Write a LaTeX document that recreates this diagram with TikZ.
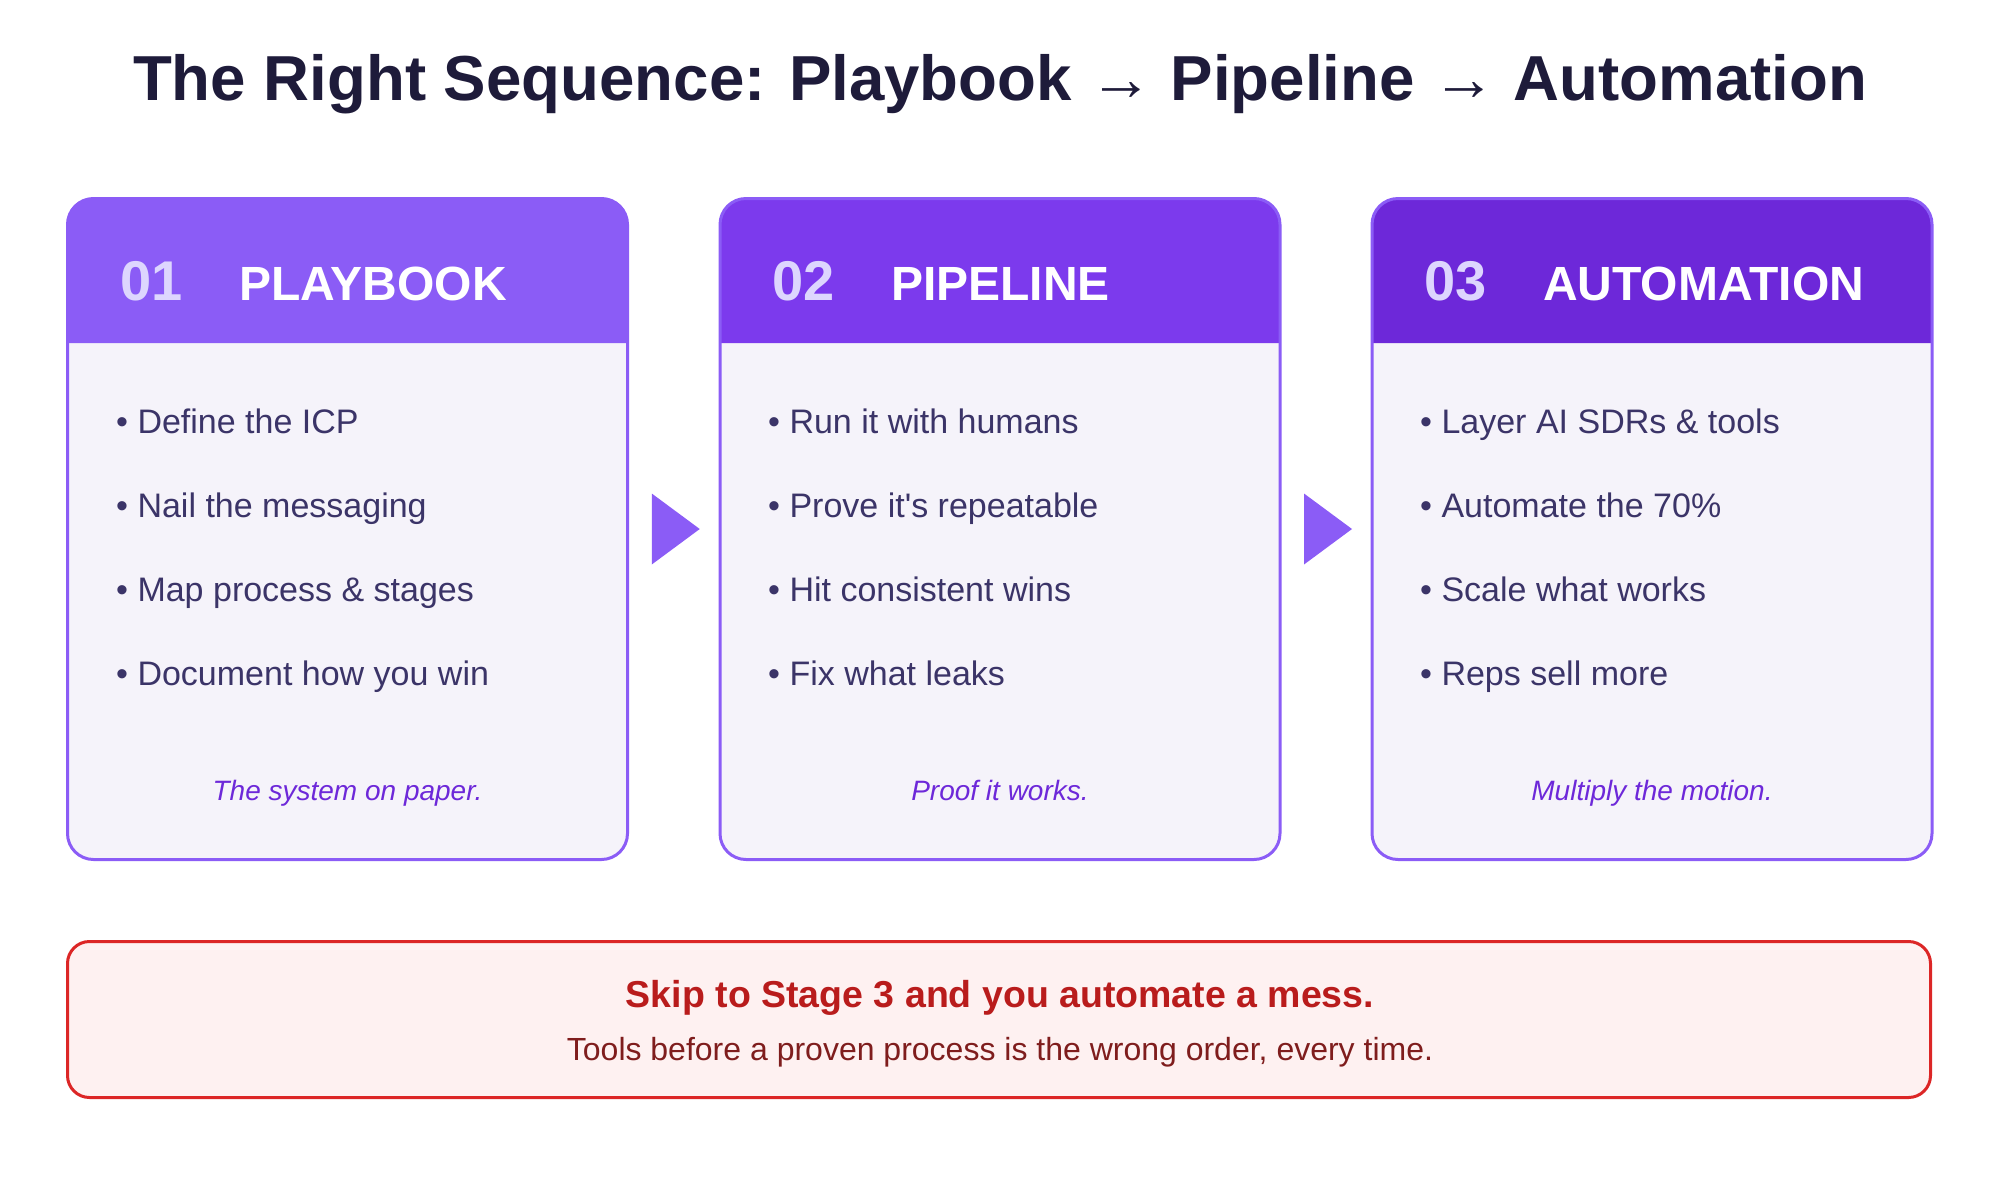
\documentclass[tikz,border=0pt]{standalone}
\usepackage{fontspec}
\setmainfont{Liberation Sans}
\usepackage{tikz}
\usetikzlibrary{positioning,calc}
\definecolor{violetA}  {HTML}{8B5CF6}
\definecolor{violetB}  {HTML}{7C3AED}
\definecolor{violetC}  {HTML}{6D28D9}
\definecolor{lavender} {HTML}{DDD6FE}
\definecolor{cardbg}   {HTML}{F5F3FA}
\definecolor{inktext}  {HTML}{3B3468}
\definecolor{navy}     {HTML}{1E1B3A}
\definecolor{warnbg}   {HTML}{FEF1F1}
\definecolor{warnline} {HTML}{DC2626}
\definecolor{warnhead} {HTML}{B91C1C}
\definecolor{warntext} {HTML}{7F1D1D}

\begin{document}
\begin{tikzpicture}[
  x=1pt,y=-1pt,
  card/.style={fill=cardbg,rounded corners=26pt,inner sep=0,outer sep=0,
               minimum width=560pt,minimum height=661pt},
  frame/.style={draw=violetA,line width=3pt,rounded corners=26pt},
  num/.style={anchor=base west,inner sep=0,text=lavender,
              font=\fontsize{56}{56}\selectfont\bfseries},
  head/.style={anchor=base west,inner sep=0,text=white,
               font=\fontsize{48}{48}\selectfont\bfseries},
  item/.style={anchor=base west,inner sep=0,text=inktext,
               font=\fontsize{34}{34}\selectfont},
  motto/.style={anchor=base,inner sep=0,text=violetC,
                font=\fontsize{28}{28}\selectfont\itshape},
  tri/.style={fill=violetA},
  warn/.style={draw=warnline,fill=warnbg,line width=3pt,rounded corners=22pt,
               inner sep=0,outer sep=0,minimum width=1863pt,minimum height=156pt}
]
\useasboundingbox (0,0) rectangle (2000,1200);

\node[anchor=base,inner sep=0,text=navy,font=\fontsize{63.6}{64}\selectfont\bfseries]
  (T) at (1000,100) {The Right Sequence: Playbook → Pipeline → Automation};

\node[card] (c1) at (347.5,529) {};
\node[card] (c2) at (1000, 529) {};
\node[card] (c3) at (1652, 529) {};
\coordinate (hb) at (0,343);

% headers
\fill[violetA,rounded corners=26pt] (c1.west |- hb) -- (c1.north west) -- (c1.north east) -- (c1.east |- hb);
\fill[violetB,rounded corners=26pt] (c2.west |- hb) -- (c2.north west) -- (c2.north east) -- (c2.east |- hb);
\fill[violetC,rounded corners=26pt] (c3.west |- hb) -- (c3.north west) -- (c3.north east) -- (c3.east |- hb);
\draw[frame] (c1.south west) rectangle (c1.north east);
\draw[frame] (c2.south west) rectangle (c2.north east);
\draw[frame] (c3.south west) rectangle (c3.north east);

\node[num]  (n1) at (120.5,300) {01};
\node[head] (h1) at (239,  300) {PLAYBOOK};
\node[num]  (n2) at (772.5,300) {02};
\node[head] (h2) at (891,  300) {PIPELINE};
\node[num]  (n3) at (1424.5,300) {03};
\node[head] (h3) at (1543, 300) {AUTOMATION};

% Stage 1
\node[item] (i11) at (116,433) {• Define the ICP};
\node[item] (i12) at (116,517) {• Nail the messaging};
\node[item] (i13) at (116,601) {• Map process \& stages};
\node[item] (i14) at (116,685) {• Document how you win};
\node[motto] (m1) at (347.5,800) {The system on paper.};

% Stage 2
\node[item] (i21) at (768,433) {• Run it with humans};
\node[item] (i22) at (768,517) {• Prove it\textquotesingle s repeatable};
\node[item] (i23) at (768,601) {• Hit consistent wins};
\node[item] (i24) at (768,685) {• Fix what leaks};
\node[motto] (m2) at (1000,800) {Proof it works.};

% Stage 3
\node[item] (i31) at (1420,433) {• Layer AI SDRs \& tools};
\node[item] (i32) at (1420,517) {• Automate the 70\%};
\node[item] (i33) at (1420,601) {• Scale what works};
\node[item] (i34) at (1420,685) {• Reps sell more};
\node[motto] (m3) at (1652,800) {Multiply the motion.};

% arrows between stages
\coordinate (g1) at ($(c1.east)!0.5!(c2.west)$);
\coordinate (g2) at ($(c2.east)!0.5!(c3.west)$);
\fill[tri] ($(g1)+(-22,-35.5)$) -- ($(g1)+(26,0)$) -- ($(g1)+(-22,35.5)$) -- cycle;
\fill[tri] ($(g2)+(-22,-35.5)$) -- ($(g2)+(26,0)$) -- ($(g2)+(-22,35.5)$) -- cycle;

% warning
\node[warn] (W) at (999,1019.5) {};
\node[anchor=base,inner sep=0,text=warnhead,font=\fontsize{37.5}{38}\selectfont\bfseries]
  (w1) at (1000,1007) {Skip to Stage 3 and you automate a mess.};
\node[anchor=base,inner sep=0,text=warntext,font=\fontsize{32}{32}\selectfont]
  (w2) at (1000,1060) {Tools before a proven process is the wrong order, every time.};
\end{tikzpicture}
\end{document}
